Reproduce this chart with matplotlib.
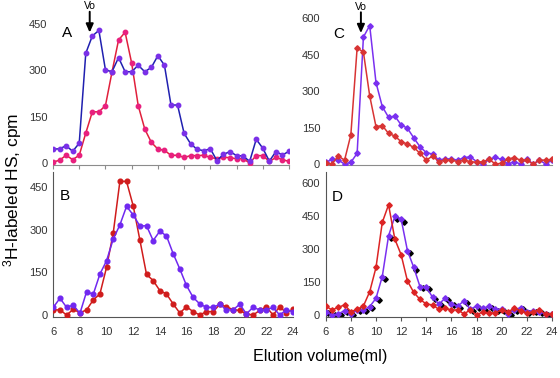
import matplotlib
matplotlib.use("Agg")
import matplotlib.pyplot as plt
import numpy as np

plt.rcParams['font.family'] = ['Liberation Sans', 'DejaVu Sans']
plt.rcParams['mathtext.default'] = 'regular'

# elution volume (ml), fractions every 0.5 ml
volume = [6 + 0.5 * i for i in range(37)]

# Panel A
a_blue = [45, 46, 56, 38, 64, 356, 412, 430, 302, 296, 342, 296, 296, 317, 296, 310, 348, 317,
          188, 188, 96, 62, 44, 40, 46, 8, 28, 37, 24, 23, 5, 77, 48, 6, 37, 26, 38]
a_red = [3, 9, 25, 11, 25, 97, 166, 166, 186, 295, 399, 424, 324, 186, 110, 67, 45, 41,
         25, 25, 18, 24, 24, 25, 18, 14, 19, 17, 14, 14, 0, 24, 24, 5, 18, 11, 5]

# Panel B
b_blue = [27, 59, 27, 35, 6, 82, 73, 144, 191, 267, 317, 382, 352, 313, 314, 262, 295, 278,
          216, 162, 104, 62, 39, 27, 27, 38, 18, 18, 38, 4, 27, 18, 18, 27, 0, 18, 12]
b_red = [18, 18, 0, 20, 8, 18, 53, 74, 168, 288, 470, 470, 384, 264, 143, 121, 86, 74,
         39, 7, 29, 12, 0, 12, 12, 37, 29, 19, 16, 4, 0, 16, 29, 0, 29, 8, 20]

# Panel C
c_blue = [7, 19, 16, 0, 7, 44, 522, 569, 335, 236, 192, 197, 161, 147, 108, 71, 47, 41,
          16, 21, 21, 16, 26, 30, 10, 0, 19, 27, 19, 0, 10, 0, 21, 0, 16, 0, 16]
c_red = [3, 0, 33, 16, 120, 477, 460, 280, 154, 158, 126, 115, 92, 82, 69, 44, 16, 33,
         10, 16, 16, 10, 16, 10, 7, 10, 19, 0, 3, 21, 26, 16, 16, 0, 16, 16, 19]

# Panel D
d_purple = [15, 0, 5, 20, 5, 23, 23, 38, 76, 175, 360, 448, 436, 293, 217, 129, 126, 81,
            50, 76, 50, 41, 64, 26, 41, 30, 41, 26, 26, 5, 23, 33, 15, 20, 15, 5, 5]
d_black = [8, 0, 0, 14, 0, 20, 20, 30, 66, 163, 348, 438, 424, 284, 204, 122, 118, 74,
           44, 68, 44, 34, 56, 20, 34, 24, 34, 20, 20, 0, 18, 28, 10, 14, 10, 0, 0]
d_red = [41, 23, 35, 46, 15, 26, 41, 106, 216, 421, 501, 345, 274, 155, 103, 71, 50, 46,
         26, 30, 23, 23, 5, 23, 0, 15, 8, 11, 23, 15, 30, 20, 8, 15, 23, 5, 5]
black_shift = 0.2

x_ticks = [6, 8, 10, 12, 14, 16, 18, 20, 22, 24]
y_ticks_ab = [0, 150, 300, 450]
y_ticks_cd = [0, 150, 300, 450, 600]
vo = 8.8

W, H = 560, 378
fig = plt.figure(figsize=(W / 100, H / 100), dpi=100)


def rect(l, r, b, t):
    return [l / W, (H - b) / H, (r - l) / W, (b - t) / H]


axA = fig.add_axes(rect(53, 289, 165, 15))
axB = fig.add_axes(rect(53.3, 293, 317, 172))
axC = fig.add_axes(rect(325.7, 552, 165.5, 10))
axD = fig.add_axes(rect(325.7, 552, 317, 172))

tick_col = '#333333'
for ax in (axA, axB, axC, axD):
    ax.set_xlim(6, 24)
    ax.spines['top'].set_visible(False)
    ax.spines['right'].set_visible(False)
    ax.tick_params(axis='y', length=0, pad=4, labelsize=8, labelcolor=tick_col)
    ax.tick_params(axis='x', labelsize=8, labelcolor=tick_col)
    ax.set_xticks(x_ticks)
    ax.patch.set_alpha(0)

axA.set_ylim(-6.5, 480)
axB.set_ylim(-7, 503)
axC.set_ylim(-6, 633)
axD.set_ylim(-9, 650)
axA.set_yticks(y_ticks_ab)
axB.set_yticks(y_ticks_ab)
axC.set_yticks(y_ticks_cd)
axD.set_yticks(y_ticks_cd)

for ax in (axA, axC):
    ax.spines['left'].set_visible(False)
    ax.spines['bottom'].set_color('#8c8c8c')
    ax.tick_params(axis='x', labelbottom=False, color='#8c8c8c', length=3, direction='out')
axC.tick_params(axis='x', length=0)
for ax in (axB, axD):
    ax.spines['left'].set_color('#555555')
    ax.spines['bottom'].set_color('#555555')
    ax.tick_params(axis='x', length=3, color='#555555', pad=4)
axB.tick_params(axis='x', length=0, pad=7)

# Panel A
axA.plot(volume, a_red, color='#e0203c', lw=1.1, marker='o', ms=3.2,
         mfc='#e8207e', mec='#e8207e', zorder=3)
axA.plot(volume, a_blue, color='#2020b0', lw=1.1, marker='o', ms=3.2,
         mfc='#7a30e8', mec='#7a30e8', zorder=4)

# Panel B
axB.plot(volume, b_red, color='#d01c1c', lw=1.1, marker='o', ms=3.4,
         mfc='#d01c1c', mec='#d01c1c', zorder=3)
axB.plot(volume, b_blue, color='#7028f0', lw=1.1, marker='o', ms=3.4,
         mfc='#7028f0', mec='#7028f0', zorder=4)

# Panel C
axC.plot(volume, c_blue, color='#7a30f0', lw=1.1, marker='D', ms=2.8,
         mfc='#7a30f0', mec='#7a30f0', zorder=3)
axC.plot(volume, c_red, color='#d83434', lw=1.1, marker='D', ms=2.8,
         mfc='#d83434', mec='#d83434', zorder=4)

# Panel D
d_black_x = [v + black_shift for v in volume]
axD.plot(d_black_x, d_black, color='black', lw=0, marker='D', ms=2.8,
         mfc='black', mec='black', zorder=2)
axD.plot(volume, d_purple, color='#7a30f0', lw=1.1, marker='D', ms=2.8,
         mfc='#7a30f0', mec='#7a30f0', zorder=3)
axD.plot(volume, d_red, color='#dc2424', lw=1.1, marker='D', ms=2.8,
         mfc='#dc2424', mec='#dc2424', zorder=4)

# panel letters
fig.text(62 / W, 1 - 33 / H, 'A', fontsize=11, va='center', ha='left')
fig.text(60 / W, 1 - 196 / H, 'B', fontsize=11, va='center', ha='left')
fig.text(333 / W, 1 - 34 / H, 'C', fontsize=11, va='center', ha='left')
fig.text(332 / W, 1 - 197 / H, 'D', fontsize=11, va='center', ha='left')

# Vo arrows
for ax, tip in ((axA, 423), (axC, 538)):
    ax.annotate('', xy=(vo, tip), xytext=(0, 15), textcoords='offset points',
                xycoords='data', annotation_clip=False,
                arrowprops=dict(arrowstyle='-|>,head_width=0.22,head_length=0.5',
                                color='black', lw=1.4, shrinkA=0, shrinkB=0))
    ax.annotate('Vo', xy=(vo, tip), xytext=(0, 15.5), textcoords='offset points',
                ha='center', va='bottom', fontsize=7.5, annotation_clip=False)

fig.text(13 / W, 1 - 190 / H, r'$^{3}$H-labeled HS, cpm', rotation=90,
         fontsize=12.5, va='center', ha='center')
fig.text(320 / W, 1 - 356 / H, 'Elution volume(ml)', fontsize=11.6,
         va='center', ha='center')

fig.savefig('out.png', dpi=100)
